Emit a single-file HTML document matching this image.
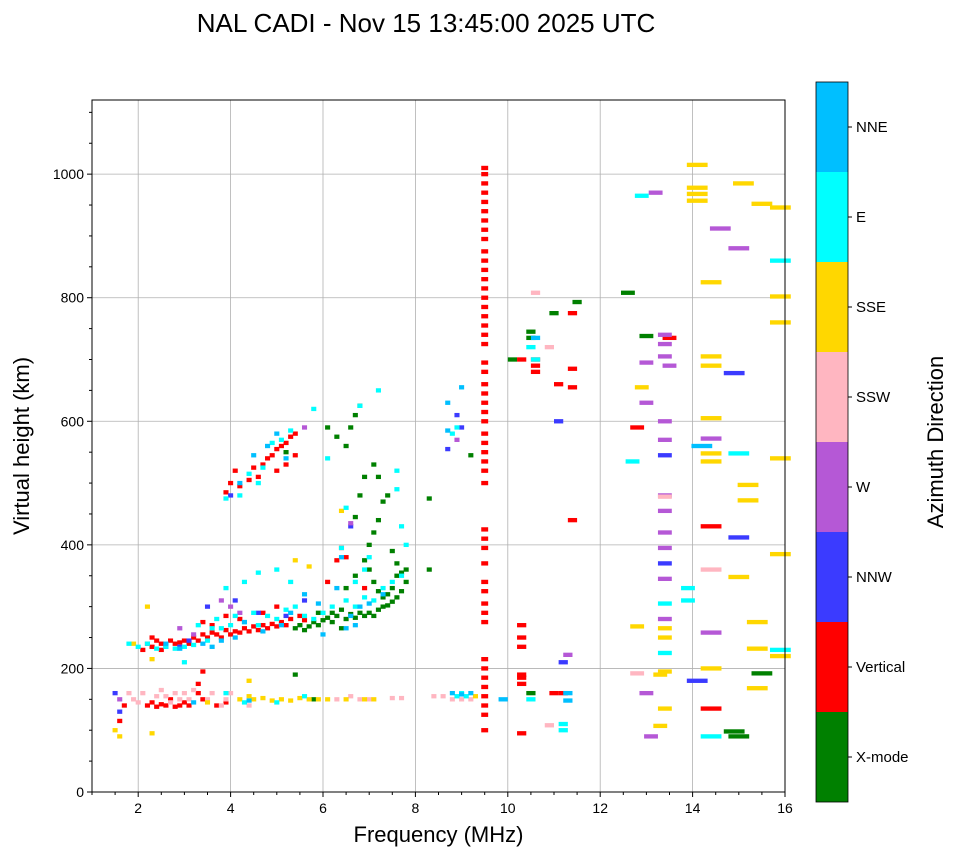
<!DOCTYPE html>
<html><head><meta charset="utf-8"><style>
body{margin:0;background:#fff;}
svg text{font-family:"Liberation Sans",sans-serif;fill:#000;}
</style></head><body>
<svg id="chart" width="958" height="857" xmlns="http://www.w3.org/2000/svg">
<rect width="958" height="857" fill="#fff"/>
<text x="426" y="32" font-size="26" text-anchor="middle">NAL CADI - Nov 15 13:45:00 2025 UTC</text>
<g id="grid"></g><g id="marks"></g><g id="axes"></g><g id="cbar"></g>
</svg>
<script>
const directions=["X-mode","Vertical","NNW","W","SSW","SSE","E","NNE"];
const dirColors=["#008000","#ff0000","#3b3bff","#b558d6","#ffb6c1","#ffd700","#00ffff","#00bfff"];
const xTicks=[2,4,6,8,10,12,14,16];
const yTicks=[0,200,400,600,800,1000];
const xmode=[[5.4,265],[5.5,270],[5.6,262],[5.7,268],[5.8,275],[5.9,270],[6.0,278],[6.1,282],[6.2,290],[6.3,285],[6.4,295],[6.5,280],[6.6,288],[6.7,282],[6.8,290],[6.9,285],[7.0,290],[7.1,285],[7.2,295],[7.3,300],[7.4,302],[7.5,308],[7.6,315],[7.7,325],[7.8,340],[7.8,360],[7.7,355],[7.6,350],[7.5,330],[7.4,320],[7.3,315],[7.2,325],[7.1,340],[7.0,360],[6.9,375],[7.0,400],[7.1,420],[7.2,440],[7.3,470],[7.4,480],[7.2,510],[7.1,530],[6.9,510],[6.8,480],[6.7,445],[6.5,560],[6.6,590],[6.7,610],[6.8,625],[6.3,575],[6.1,590],[5.2,550],[5.4,190],[5.8,150],[6.4,265],[6.2,275],[5.9,290],[6.5,330],[6.7,350],[7.5,390],[7.6,370],[8.3,360],[8.3,475],[9.2,545],[11.5,793],[10.5,735],[10.5,745],[10.1,700],[10.5,160],[11.0,775],[12.6,808],[13.0,738],[15.5,192],[15.0,90],[14.9,98]];
const vertical=[[2.1,230],[2.2,240],[2.3,235],[2.4,245],[2.5,240],[2.6,238],[2.7,245],[2.8,240],[2.9,242],[3.0,245],[3.1,240],[3.2,250],[3.3,245],[3.4,255],[3.5,250],[3.6,258],[3.7,255],[3.8,250],[3.9,262],[4.0,255],[4.1,260],[4.2,258],[4.3,265],[4.4,260],[4.5,268],[4.6,262],[4.7,270],[4.8,265],[4.9,272],[5.0,268],[5.1,275],[5.2,270],[5.3,280],[5.5,285],[5.6,278],[3.4,275],[3.6,270],[3.9,285],[4.2,280],[4.7,290],[5.0,300],[6.1,340],[6.3,375],[6.4,395],[6.5,380],[6.9,330],[2.3,250],[2.5,230],
[4.0,500],[4.2,495],[4.4,505],[4.6,510],[4.5,525],[4.7,530],[4.8,540],[4.9,545],[5.0,555],[5.1,560],[5.2,565],[5.3,575],[5.4,580],[5.2,530],[5.4,545],[5.0,520],[4.1,520],[3.9,485],
[1.6,115],[1.7,140],[2.2,140],[2.3,145],[2.4,138],[2.5,142],[2.6,140],[2.7,150],[2.8,138],[2.9,140],[3.0,145],[3.1,140],[3.3,160],[3.3,175],[3.4,150],[3.7,140],[3.9,145],[3.4,195],
[9.5,100],[9.5,125],[9.5,140],[9.5,155],[9.5,170],[9.5,185],[9.5,200],[9.5,215],[9.5,275],[9.5,290],[9.5,305],[9.5,325],[9.5,340],[9.5,370],[9.5,395],[9.5,410],[9.5,425],[9.5,500],[9.5,520],[9.5,535],[9.5,550],[9.5,565],[9.5,580],[9.5,600],[9.5,615],[9.5,630],[9.5,645],[9.5,660],[9.5,680],[9.5,695],[9.5,725],[9.5,740],[9.5,755],[9.5,770],[9.5,785],[9.5,800],[9.5,815],[9.5,830],[9.5,845],[9.5,860],[9.5,875],[9.5,895],[9.5,910],[9.5,925],[9.5,940],[9.5,955],[9.5,970],[9.5,985],[9.5,1000],[9.5,1010],
[10.3,95],[10.3,175],[10.3,185],[10.3,190],[10.3,235],[10.3,250],[10.3,270],[10.6,680],[10.6,690],[10.6,700],[11.2,160],[11.0,160],[11.4,655],[11.4,685],[11.4,440],[11.4,775],[10.3,700],[12.8,590],[13.5,735],[14.4,135],[14.4,430],[11.1,660]];
const nnw=[[2.9,235],[3.1,245],[3.5,300],[4.1,310],[4.6,290],[5.2,285],[5.6,310],[6.6,430],[8.7,555],[8.9,610],[9.0,590],[11.2,210],[11.1,600],[13.4,545],[13.4,370],[14.1,180],[14.9,678],[15.0,412],[2.6,235],[1.5,160],[1.6,130],[4.0,480]];
const west=[[3.8,310],[4.0,300],[4.2,290],[3.2,255],[6.6,435],[8.9,570],[13.0,160],[13.0,630],[13.0,695],[13.1,90],[13.2,970],[13.4,740],[13.4,725],[13.4,705],[13.4,600],[13.4,570],[13.4,480],[13.4,455],[13.4,420],[13.4,395],[13.4,345],[13.4,280],[13.5,690],[14.4,258],[14.4,572],[14.6,912],[15.0,880],[11.3,222],[1.6,150],[2.9,265],[5.6,590]];
const ssw=[[1.8,160],[1.9,150],[2.0,145],[2.1,160],[2.4,155],[2.5,165],[2.6,155],[2.7,145],[2.8,160],[2.9,150],[3.0,160],[3.1,150],[3.2,165],[3.5,150],[3.6,160],[3.8,140],[3.9,150],[4.0,160],[6.3,150],[6.6,155],[6.8,150],[7.0,150],[7.5,152],[7.7,152],[8.4,155],[8.6,155],[8.8,150],[9.0,150],[9.2,150],[10.6,808],[10.9,108],[10.9,720],[13.4,478],[12.8,192],[14.4,360],[4.4,140]];
const sse=[[1.5,100],[1.6,90],[2.3,95],[2.3,215],[1.9,240],[3.5,145],[4.2,150],[4.4,155],[4.5,150],[4.7,152],[4.9,148],[5.1,150],[5.3,148],[5.5,152],[5.7,150],[5.9,150],[6.1,150],[6.5,150],[6.9,150],[7.1,150],[4.4,180],[5.4,375],[5.7,365],[6.4,455],[13.3,107],[13.3,190],[13.4,195],[13.4,135],[13.4,250],[13.4,265],[12.8,268],[12.9,655],[14.1,1015],[14.1,978],[14.1,968],[14.1,957],[14.4,825],[14.4,705],[14.4,690],[14.4,605],[14.4,548],[14.4,535],[14.4,200],[15.1,985],[15.5,952],[15.9,946],[15.9,802],[15.9,760],[15.9,540],[15.9,385],[15.9,220],[15.2,497],[15.2,472],[15.0,348],[15.4,275],[15.4,232],[15.4,168],[9.3,155],[2.2,300]];
const east=[[2.2,240],[2.4,232],[2.6,235],[2.8,232],[3.0,235],[3.2,238],[3.3,270],[3.5,245],[3.6,265],[3.7,280],[3.8,265],[4.0,270],[4.1,285],[4.3,275],[4.5,290],[4.6,270],[4.8,285],[5.0,280],[5.2,295],[5.4,300],[5.6,285],[5.8,280],[6.0,290],[6.2,300],[6.5,310],[6.7,300],[6.9,315],[7.1,310],[7.3,330],[7.5,340],[7.7,350],[7.8,400],[7.7,430],[7.6,490],[6.7,340],[6.9,360],[7.0,380],[6.4,395],[4.3,340],[4.6,355],[5.0,360],[5.3,340],[3.9,330],[6.1,540],[6.5,460],[7.2,650],[5.8,620],[4.4,515],[4.6,500],[4.9,565],[5.1,570],[5.3,585],[4.2,480],[3.9,475],[4.7,525],[1.8,240],[2.0,235],[3.9,160],[4.3,145],[5.0,145],[5.6,155],[8.9,155],[9.0,160],[9.1,155],[8.9,590],[8.8,580],[10.5,150],[10.5,720],[10.6,700],[11.2,100],[11.2,110],[12.9,965],[13.4,225],[13.4,305],[13.9,330],[13.9,310],[14.4,90],[15.0,548],[15.9,860],[15.9,230],[12.7,535],[7.6,520],[6.8,625],[3.0,210]];
const nne=[[2.6,240],[2.9,232],[3.4,240],[3.6,235],[3.8,245],[4.1,250],[4.3,275],[4.7,260],[5.1,270],[5.3,290],[5.6,320],[6.3,330],[6.6,285],[6.8,300],[7.0,305],[7.3,320],[4.2,500],[4.5,545],[4.8,560],[5.2,540],[5.0,580],[8.7,630],[8.7,585],[9.0,655],[8.8,160],[9.0,158],[9.2,160],[4.4,148],[3.2,145],[11.3,148],[11.3,160],[14.2,560],[5.9,305],[6.0,255],[6.4,380],[6.5,265],[6.7,270],[9.9,150],[10.6,735]];
const series=[xmode,vertical,nnw,west,ssw,sse,east,nne];

const NS="http://www.w3.org/2000/svg";
const L=92,R=785,T=100,B=792,XMIN=1,XMAX=16,YMIN=0,YMAX=1120;
const xs=f=>L+(f-XMIN)/(XMAX-XMIN)*(R-L);
const ys=h=>B-(h-YMIN)/(YMAX-YMIN)*(B-T);
function mk(tag,attrs,parent){const e=document.createElementNS(NS,tag);for(const k in attrs)e.setAttribute(k,attrs[k]);parent.appendChild(e);return e;}
const grid=document.getElementById('grid'),marks=document.getElementById('marks'),axes=document.getElementById('axes'),cb=document.getElementById('cbar');
xTicks.forEach(v=>{if(v<XMAX){const l=mk('line',{x1:xs(v),x2:xs(v),y1:T,y2:B,stroke:'#b0b0b0','stroke-width':0.8},grid);}});
yTicks.forEach(v=>{if(v>YMIN){const l=mk('line',{x1:L,x2:R,y1:ys(v),y2:ys(v),stroke:'#b0b0b0','stroke-width':0.8},grid);}});
series.forEach((pts,d)=>{pts.forEach(p=>{const f=p[0],h=p[1];const w=f<9.4?0.11:f<9.7?0.15:f<12?0.2:f<14?0.3:0.45;
const r=mk('rect',{x:xs(f-w/2),y:ys(h+3.5),width:xs(f+w/2)-xs(f-w/2),height:ys(h-3.5)-ys(h+3.5),fill:dirColors[d]},marks);

});});
const fr=mk('rect',{x:L,y:T,width:R-L,height:B-T,fill:'none',stroke:'#000','stroke-width':1},axes);

for(let v=1;v<=16;v+=0.5){mk('line',{x1:xs(v),x2:xs(v),y1:B,y2:B+(xTicks.includes(v)?5:3),stroke:'#000'},axes);}
for(let v=0;v<=1100;v+=50){mk('line',{x1:L,x2:L-(yTicks.includes(v)?5:3),y1:ys(v),y2:ys(v),stroke:'#000'},axes);}
xTicks.forEach(v=>{const t=mk('text',{x:xs(v),y:B+21,'font-size':14,'text-anchor':'middle'},axes);t.textContent=v;});
yTicks.forEach(v=>{const t=mk('text',{x:L-8,y:ys(v)+5,'font-size':14,'text-anchor':'end'},axes);t.textContent=v;});
const xt=mk('text',{x:(L+R)/2,y:842,'font-size':22,'text-anchor':'middle'},axes);xt.textContent='Frequency (MHz)';
const yt=mk('text',{x:29,y:446,'font-size':22,'text-anchor':'middle',transform:'rotate(-90 29 446)'},axes);yt.textContent='Virtual height (km)';
const CT=82,CB=802,CL=816,CW=32,seg=(CB-CT)/directions.length;
directions.forEach((n,i)=>{const y0=CB-(i+1)*seg;
const r=mk('rect',{x:CL,y:y0,width:CW,height:seg,fill:dirColors[i]},cb);
mk('line',{x1:CL+CW,x2:CL+CW+4,y1:y0+seg/2,y2:y0+seg/2,stroke:'#000'},cb);
const t=mk('text',{x:CL+CW+8,y:y0+seg/2+5,'font-size':15},cb);t.textContent=n;});
mk('rect',{x:CL,y:CT,width:CW,height:CB-CT,fill:'none',stroke:'#000','stroke-width':0.8},cb);
const ct=mk('text',{x:943,y:442,'font-size':22,'text-anchor':'middle',transform:'rotate(-90 943 442)'},cb);ct.textContent='Azimuth Direction';
</script>
</body></html>
